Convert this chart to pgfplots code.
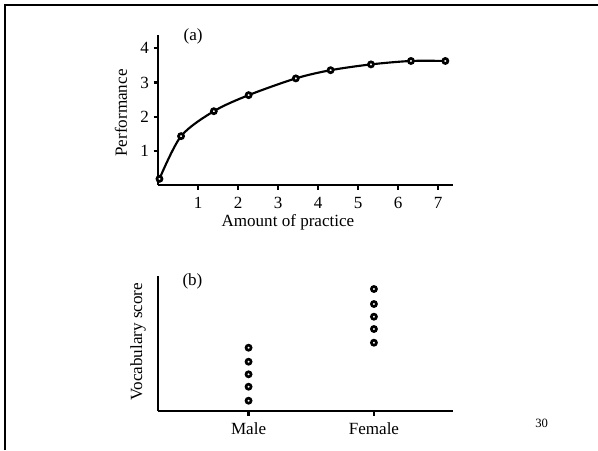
\documentclass[border=0pt]{standalone}
\usepackage{fontspec}
\setmainfont{Liberation Serif}
\usepackage{pgfplots}
\pgfplotsset{compat=1.18}

\newcommand{\lblfont}{\fontsize{12.8}{14}\selectfont}
\pgfplotsset{
  panel/.style={
    scale only axis, width=221pt, clip=false,
    axis x line=bottom, axis y line=left,
    axis line style={-, line width=1.8pt},
    tick style={line width=1.6pt, black},
    tick align=outside, major tick length=3.5pt,
    tick label style={font=\lblfont},
    xticklabel style={yshift=-2pt},
    label style={font=\lblfont},
    /pgf/number format/assume math mode=true,
  },
  pts/.style={only marks, mark=*, mark size=1.9pt,
              mark options={fill=white, draw=black, line width=2pt}},
}

\begin{document}
\begin{tikzpicture}
\useasboundingbox (0,0) rectangle (448.5pt,-337.5pt);
\draw[line width=1.5pt] (3.4pt,-337.5pt) -- (3.4pt,-4.1pt) -- (448.5pt,-4.1pt);

% (a) practice curve
\begin{axis}[panel, at={(118.7pt,-138.75pt)}, anchor=south west, height=112.5pt,
  xmin=0, xmax=7.37, ymin=0, ymax=4.39,
  xtick={1,2,3,4,5,6,7}, ytick={1,2,3,4},
  xlabel={Amount of practice}, ylabel={Performance},
  xlabel style={at={(axis description cs:0.44,-0.25)}, anchor=center},
  ylabel style={at={(axis description cs:-0.127,0.48)}, anchor=center},
]
\addplot[line width=1.6pt, smooth, mark=*, mark size=1.9pt,
  mark options={fill=white, draw=black, line width=2pt}] coordinates
  {(0.03,0.18) (0.57,1.43) (1.39,2.16) (2.26,2.63) (3.44,3.12)
   (4.31,3.36) (5.32,3.53) (6.32,3.63) (7.18,3.63)};
\node[font=\lblfont] at (axis description cs:0.118,0.993) {(a)};
\end{axis}

% (b) vocabulary by sex
\begin{axis}[panel, at={(118.7pt,-308.25pt)}, anchor=south west, height=101.25pt,
  xmin=-0.72, xmax=1.63, ymin=0, ymax=135,
  xtick={0,1}, xticklabels={Male, Female}, ytick=\empty,
  ylabel={Vocabulary score},
  ylabel style={at={(axis description cs:-0.069,0.513)}, anchor=center},
]
\addplot[pts] coordinates {(0,63.3) (0,49.3) (0,36.7) (0,24.3) (0,10.3)};
\addplot[pts] coordinates {(1,122) (1,107) (1,94.3) (1,82) (1,68.3)};
\node[font=\lblfont] at (axis description cs:0.116,0.959) {(b)};
\end{axis}

\node[font=\fontsize{9.5}{11}\selectfont] at (406.2pt,-317.5pt) {30};
\end{tikzpicture}
\end{document}
